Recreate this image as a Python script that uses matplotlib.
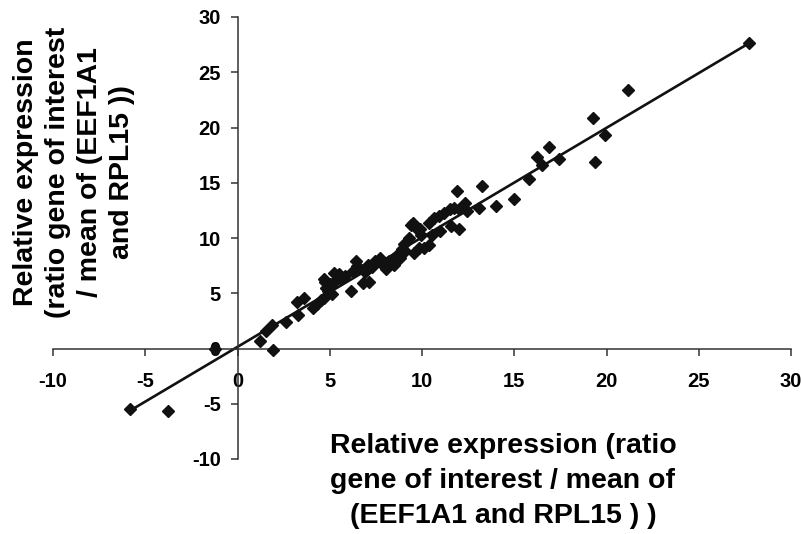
import matplotlib
matplotlib.use('Agg')
import matplotlib.pyplot as plt

# points (x, y)
x_vals = [-5.8, -3.75, -1.2, 1.2, 1.92, 1.55, 1.85, 2.64, 3.27, 3.2, 3.6, 4.1, 4.3, 4.55,
          4.7, 4.8, 4.75, 4.7, 4.9, 5.1, 5.0, 5.25, 5.5, 5.2, 5.6, 5.8, 6.15, 6.25, 6.4, 6.5,
          6.6, 6.8, 7.15, 6.9, 7.05, 7.3, 7.45, 7.7, 7.8, 8.05, 8.2, 8.5, 8.6, 8.8, 8.9,
          9.1, 9.05, 9.3, 9.4, 9.7, 9.55, 9.85, 9.95, 9.5, 9.9, 10.1, 10.4, 10.55, 10.4,
          10.65, 10.9, 11.2, 11.0, 11.5, 11.75, 11.9, 11.55, 12.0, 12.0, 12.35, 12.45,
          13.1, 13.25, 14.0, 15.0, 15.8, 16.25, 16.5, 16.9, 17.4, 19.25, 19.4, 19.9,
          21.15, 27.75]
y_vals = [-5.5, -5.7, 0.0, 0.7, -0.1, 1.55, 2.15, 2.36, 3.06, 4.25, 4.6, 3.7, 4.0, 4.4,
          4.6, 5.5, 6.0, 6.3, 5.2, 4.9, 5.8, 6.85, 6.7, 5.95, 6.3, 6.6, 5.2, 7.0, 7.9, 7.5,
          7.3, 5.95, 6.05, 6.9, 7.6, 7.4, 7.9, 8.2, 7.75, 7.15, 7.9, 7.6, 8.4, 8.2, 9.0,
          8.8, 9.45, 10.0, 11.2, 10.9, 8.6, 9.1, 10.3, 11.4, 10.8, 9.1, 9.4, 10.3, 11.4,
          11.85, 12.0, 12.3, 10.6, 12.6, 12.75, 14.25, 11.1, 10.8, 12.6, 13.2, 12.45,
          12.75, 14.7, 12.9, 13.5, 15.3, 17.35, 16.65, 18.2, 17.15, 20.9, 16.9, 19.3,
          23.35, 27.65]

# trend line end points
line_x = [-5.8, 27.8]
line_y = [-5.6, 27.7]

ticks = [-10, -5, 0, 5, 10, 15, 20, 25, 30]

label_text = 'Relative expression (ratio\ngene of interest / mean of\n(EEF1A1 and RPL15 ) )'
ylabel_text = 'Relative expression\n(ratio gene of interest\n/ mean of (EEF1A1\nand RPL15 ))'

fig = plt.figure(figsize=(8.01, 5.34), dpi=100)
W, H = 801.0, 534.0
ax = fig.add_axes([53 / W, 1 - 459 / H, (791 - 53) / W, (459 - 17) / H])

ax.plot(x_vals, y_vals, 'D', color='#111111', markersize=6.5, zorder=3)
ax.plot(line_x, line_y, '-', color='#111111', linewidth=1.9, zorder=2)

ax.set_xlim(-10, 30)
ax.set_ylim(-10, 30)
ax.set_xticks(ticks)
ax.set_yticks(ticks)

for s in ['top', 'right']:
    ax.spines[s].set_visible(False)
ax.spines['left'].set_position(('data', 0))
ax.spines['bottom'].set_position(('data', 0))
for s in ['left', 'bottom']:
    ax.spines[s].set_color('#333333')
    ax.spines[s].set_linewidth(1.1)

tick_font = {'family': 'Liberation Sans', 'weight': 'bold', 'size': 14.5}
ax.tick_params(axis='both', direction='out', length=5, width=1.1, color='#333333', pad=7)
ax.tick_params(axis='x', pad=12)
ax.set_xticklabels([str(t) for t in ticks], fontdict=tick_font)
ax.set_yticklabels([str(t) for t in ticks], fontdict=tick_font)

lab_font = 'Liberation Sans'
fig.text(503 / W, 1 - 481 / H, label_text, ha='center', va='center', multialignment='center',
         family=lab_font, weight='bold', fontsize=20.5, linespacing=1.45)
fig.text(74 / W, 1 - 172 / H, ylabel_text, ha='center', va='center', multialignment='center',
         rotation=90, family=lab_font, weight='bold', fontsize=20.5, linespacing=1.3)

fig.savefig('out.png', dpi=100)
